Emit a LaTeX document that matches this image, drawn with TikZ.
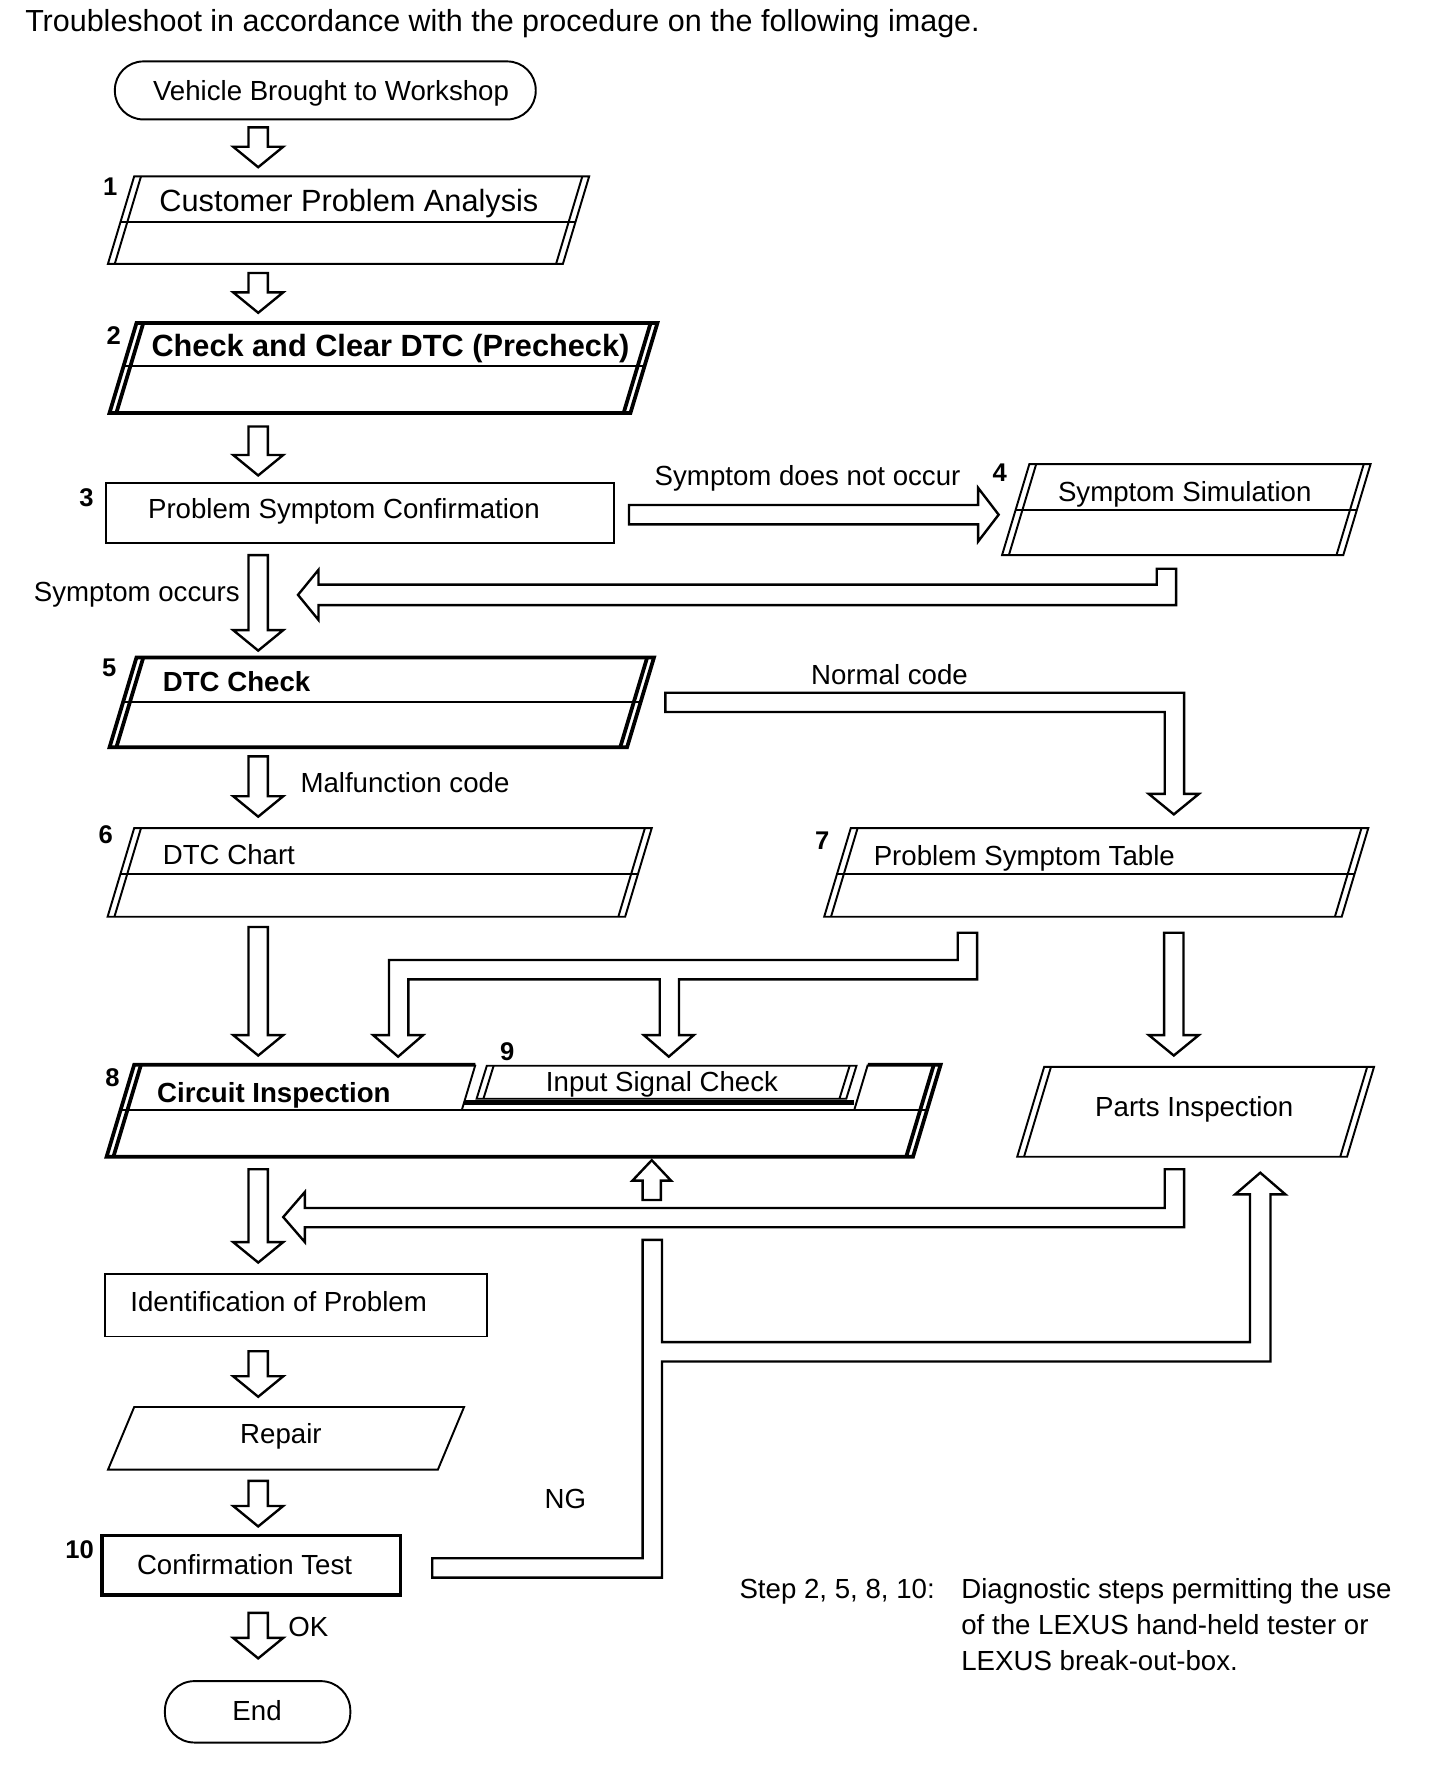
\documentclass[tikz,border=0pt]{standalone}
\usepackage{fontspec}
\setmainfont{Liberation Sans}
\usetikzlibrary{calc}
\newcommand\fs{\fontsize{24.3}{29}\selectfont}
\newcommand\fbig{\fontsize{27}{32}\selectfont}
\newcommand\ftitle{\fontsize{26.8}{32}\selectfont}
\newcommand\fnum{\fontsize{22.5}{26}\selectfont\bfseries}
% parallelogram with double side edges
\newcommand\pgram[7]{%
 \pgfmathsetmacro\sl{0.3*(#5-#3)}%
 \draw[#1] (#2,#3) -- (#4,#3) -- (#4-\sl,#5) -- (#2-\sl,#5) -- cycle;
 \draw[#1] (#2+6,#3) -- (#2+6-\sl,#5) (#4-6,#3) -- (#4-6-\sl,#5);
 \ifx\relax#6\relax\else
  \pgfmathsetmacro\dd{\sl*(#6-#3)/(#5-#3)}%
  \draw[thinl] (#2-\dd,#6) -- (#4-\dd,#6);
 \fi
 \coordinate (#7) at (#2,#3);}
% hollow block arrow pointing down from #1 to tip #2
\newcommand\darr[2]{%
 \draw[blk] let \p1=(#1),\p2=(#2) in
  (\x1-8.5pt,\y1) -- (\x1+8.5pt,\y1) -- (\x1+8.5pt,\y2+18pt) -- (\x1+22pt,\y2+18pt)
  -- (\x2,\y2) -- (\x1-22pt,\y2+18pt) -- (\x1-8.5pt,\y2+18pt) -- cycle;}
\begin{document}
\begin{tikzpicture}[x=1pt,y=-1pt,line join=miter,
 every node/.style={inner sep=0pt,font=\fs},
 thinl/.style={line width=1.7pt},
 thickl/.style={line width=3.3pt},
 blk/.style={line width=2.1pt,draw=black,fill=white},
 num/.style={font=\fnum,anchor=base},
 lbl/.style={anchor=base west},
 clbl/.style={anchor=base}]
\useasboundingbox (0,0) rectangle (1266,1566.7);

% title
\node[lbl,font=\ftitle] (title) at (22,28) {Troubleshoot in accordance with the procedure on the following image.};

% start
\node[draw,thinl,rounded corners=25pt,minimum width=370pt,minimum height=51pt] (start) at (286,79.5) {};
\node[clbl] (startT) at (291,88) {Vehicle Brought to Workshop};

% step 1
\pgram{thinl}{118}{155}{518}{232}{195}{b1}
\node[num] (n1) at (97,172) {1};
\node[lbl,font=\fbig] (t1) at (140,186) {Customer Problem Analysis};

% step 2
\pgram{thickl}{120}{284}{578}{363}{322}{b2}
\node[num] (n2) at (100,303) {2};
\node[lbl,font=\fbig\bfseries] (t2) at (133,313) {Check and Clear DTC (Precheck)};

% step 3
\draw[thinl] (93,425) rectangle (540,477);
\node[num] (n3) at (76,445) {3};
\node[lbl] (t3) at (130,456) {Problem Symptom Confirmation};

% step 4
\pgram{thinl}{905}{408}{1205}{488}{448}{b4}
\node[num] (n4) at (879,423) {4};
\node[lbl] (t4) at (930,441) {Symptom Simulation};
\node[clbl] (l34) at (710,427) {Symptom does not occur};

% step 5
\pgram{thickl}{120}{578}{575}{657}{617}{b5}
\node[num] (n5) at (96,595) {5};
\node[lbl,font=\fs\bfseries] (t5) at (143,608) {DTC Check};
\node[clbl] (lnc) at (782,602) {Normal code};
\node[anchor=base east] (lso) at (211,529) {Symptom occurs};
\node[lbl] (lmc) at (264,697) {Malfunction code};

% step 6
\pgram{thinl}{118}{728}{573}{806}{768}{b6}
\node[num] (n6) at (93,742) {6};
\node[lbl] (t6) at (143,760) {DTC Chart};

% step 7
\pgram{thinl}{748}{728}{1203}{806}{768}{b7}
\node[num] (n7) at (723,747) {7};
\node[lbl] (t7) at (768,761) {Problem Symptom Table};

% step 8 / 9
\draw[thickl] (418,936) -- (118,936) -- (93.7,1017) -- (802.7,1017) -- (827,936) -- (763,936);
\draw[thickl] (124,936) -- (99.7,1017) (821,936) -- (796.7,1017);
\draw[thinl] (106,976) -- (815,976);
\draw[thinl] (418,936) -- (406,976) (763,936) -- (751,976);
\draw[thinl] (428,937) -- (753,937) -- (744,966) -- (419,966) -- cycle;
\draw[thinl] (434,937) -- (425,966) (747,937) -- (738,966);
\draw[line width=4pt] (408,969.5) -- (751,969.5);
\node[num] (n8) at (99,955) {8};
\node[lbl,font=\fs\bfseries] (t8) at (138,969) {Circuit Inspection};
\node[num] (n9) at (446,932) {9};
\node[clbl] (t9) at (582,960) {Input Signal Check};

% parts inspection
\pgram{thinl}{918}{938}{1208}{1017}{}{bp}
\node[clbl] (tp) at (1050,982) {Parts Inspection};

% identification
\draw[thinl] (92,1120) rectangle (428,1175);
\node[clbl] (tid) at (245,1153) {Identification of Problem};

% repair
\draw[thinl] (118,1237) -- (408,1237) -- (385,1292) -- (95,1292) -- cycle;
\node[clbl] (trep) at (247,1269) {Repair};

% confirmation test
\draw[thickl] (90,1350) rectangle (352,1402);
\node[num] (n10) at (70,1370) {10};
\node[clbl] (t10) at (215,1384) {Confirmation Test};
\node[clbl] (lng) at (497,1326) {NG};
\node[clbl] (lok) at (271,1439) {OK};

% end
\node[draw,thinl,rounded corners=26pt,minimum width=163pt,minimum height=54pt] (end) at (226.5,1505) {};
\node[clbl] (tend) at (226,1513) {End};

% footnote
\node[lbl] (fn0) at (650,1405) {Step 2, 5, 8, 10:};
\node[lbl] (fn1) at (845,1405) {Diagnostic steps permitting the use};
\node[lbl] (fn2) at (845,1437) {of the LEXUS hand-held tester or};
\node[lbl] (fn3) at (845,1469) {LEXUS break-out-box.};

% straight down arrows
\coordinate (a0s) at (227,112);  \coordinate (a0e) at (227,147);
\coordinate (a1s) at (227,240);  \coordinate (a1e) at (227,275);
\coordinate (a2s) at (227,375);  \coordinate (a2e) at (227,418);
\coordinate (a3s) at (227,488);  \coordinate (a3e) at (227,572);
\coordinate (a4s) at (227,665);  \coordinate (a4e) at (227,718);
\coordinate (a5s) at (227,815);  \coordinate (a5e) at (227,928);
\coordinate (a7s) at (1032,820); \coordinate (a7e) at (1032,928);
\coordinate (a8s) at (227,1028); \coordinate (a8e) at (227,1110);
\coordinate (a9s) at (227,1188); \coordinate (a9e) at (227,1228);
\coordinate (a10s) at (227,1302); \coordinate (a10e) at (227,1342);
\coordinate (a11s) at (227,1418); \coordinate (a11e) at (227,1458);
\darr{a0s}{a0e}
\darr{a1s}{a1e}
\darr{a2s}{a2e}
\darr{a3s}{a3e}
\darr{a4s}{a4e}
\darr{a5s}{a5e}
\darr{a7s}{a7e}
\darr{a8s}{a8e}
\darr{a9s}{a9e}
\darr{a10s}{a10e}
\darr{a11s}{a11e}

% 3 -> 4
\draw[blk] (553,444) -- (860,444) -- (860,429) -- (878,452.5) -- (860,476) -- (860,461) -- (553,461) -- cycle;
% 4 -> main line
\draw[blk] (262,523) -- (280,501) -- (280,514) -- (1017,514) -- (1017,500) -- (1034,500) -- (1034,532) -- (280,532) -- (280,545) -- cycle;
% normal code 5 -> 7
\draw[blk] (585,609) -- (1041,609) -- (1041,698) -- (1054,698) -- (1032,716) -- (1010,698) -- (1024,698) -- (1024,626) -- (585,626) -- cycle;
% 7 -> 8 and 9
\draw[blk] (859,820) -- (859,861) -- (597,861) -- (597,910) -- (610,910) -- (588,929) -- (566,910) -- (580,910) -- (580,861) -- (359,861) -- (359,910) -- (372,910) -- (350,929) -- (328,910) -- (342,910) -- (342,844) -- (842,844) -- (842,820) -- cycle;
% parts -> main line
\draw[blk] (1041,1028) -- (1041,1079) -- (268,1079) -- (268,1092) -- (249,1070) -- (268,1048) -- (268,1062) -- (1024,1062) -- (1024,1028) -- cycle;
% up arrow into 8
\draw[blk] (573,1020) -- (590,1038) -- (581,1038) -- (581,1055) -- (565,1055) -- (565,1038) -- (556,1038) -- cycle;
% NG line
\draw[blk] (380,1370) -- (565,1370) -- (565,1090) -- (582,1090) -- (582,1180) -- (1099,1180) -- (1099,1050) -- (1086,1050) -- (1108,1031) -- (1130,1050) -- (1117,1050) -- (1117,1197) -- (582,1197) -- (582,1387) -- (380,1387) -- cycle;
\end{tikzpicture}
\end{document}
